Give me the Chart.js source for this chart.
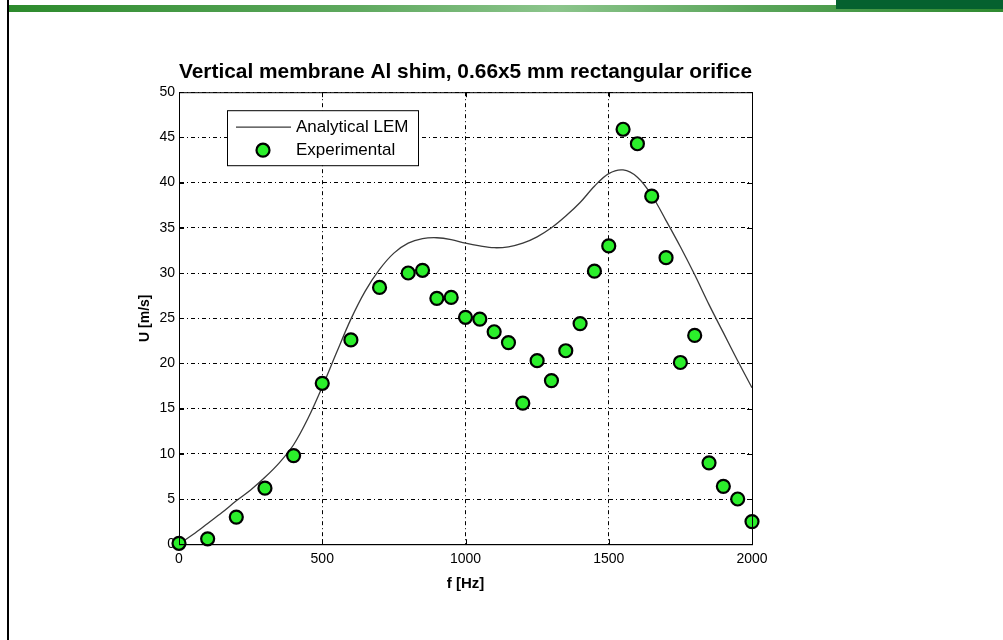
<!DOCTYPE html>
<html>
<head>
<meta charset="utf-8">
<script src="https://cdn.jsdelivr.net/npm/chart.js@4.4.1/dist/chart.umd.min.js"></script>
<style>
  html, body { margin: 0; padding: 0; background: #fff; }
  #page { position: relative; width: 1003px; height: 640px; overflow: hidden; background: #fff; }
  #band { position: absolute; left: 9px; top: 5px; width: 994px; height: 7px;
          background: linear-gradient(to right, #2c8a2c 0%, #5fa95f 35%, #8cc58c 55%, #5aa55a 75%, #2f8a30 100%); }
  #block { position: absolute; left: 836px; top: 0; width: 167px; height: 9px; background: #05612f; }
  #edge { position: absolute; left: 7px; top: 0; width: 2px; height: 640px; background: #000; }
  #chart { position: absolute; left: 0; top: 0; }
</style>
</head>
<body>
<div id="page">
  <div id="band"></div>
  <div id="block"></div>
  <div id="edge"></div>
  <canvas id="chart" width="1003" height="640"></canvas>
</div>
<script>
// --- 데이터 ---
const chartTitle = 'Vertical membrane Al shim, 0.66x5 mm rectangular orifice';
const xTitle = 'f [Hz]';
const yTitle = 'U [m/s]';

// Analytical LEM curve
const lemFreq = [0, 50, 100, 150, 200, 250, 300, 350, 400, 450, 500, 550, 600, 650, 700, 750, 800, 850, 900, 950,
                 1000, 1050, 1100, 1150, 1200, 1250, 1300, 1350, 1400, 1450, 1500, 1550, 1600, 1650, 1700, 1750,
                 1800, 1850, 1900, 1950, 2000];
const lemU = [0, 1.1, 2.3, 3.5, 4.8, 6.0, 7.4, 9.0, 11.0, 13.9, 17.4, 21.2, 24.9, 28.0, 30.4, 32.2, 33.3, 33.8, 33.9, 33.7,
              33.3, 33.0, 32.8, 32.9, 33.3, 34.0, 35.0, 36.3, 37.8, 39.6, 41.0, 41.4, 40.6, 38.6, 35.8, 32.9,
              29.8, 26.5, 23.4, 20.3, 17.3];

// Experimental
const expFreq = [0, 100, 200, 300, 400, 500, 600, 700, 800, 850, 900, 950, 1000, 1050, 1100, 1150, 1200, 1250, 1300,
                 1350, 1400, 1450, 1500, 1550, 1600, 1650, 1700, 1750, 1800, 1850, 1900, 1950, 2000];
const expU = [0.1, 0.6, 3.0, 6.2, 9.8, 17.8, 22.6, 28.4, 30.0, 30.3, 27.2, 27.3, 25.1, 24.9, 23.5, 22.3, 15.6, 20.3, 18.1,
              21.4, 24.4, 30.2, 33.0, 45.9, 44.3, 38.5, 31.7, 20.1, 23.1, 9.0, 6.4, 5.0, 2.5];

const legendLabels = ['Analytical LEM', 'Experimental'];

// --- 스타일 ---
const fontFamily = '"Liberation Sans", Arial, Helvetica, sans-serif';
const markerFill = '#2bef2b';
const lineColor = '#3a3a3a';

Chart.defaults.font.family = fontFamily;
Chart.defaults.color = '#000';

// 박스 테두리 + 안쪽 눈금 + 범례
const framePlugin = {
    id: 'frame',
    afterDatasetsDraw(chart) {
        const { ctx, chartArea: a, scales } = chart;
        ctx.save();
        ctx.strokeStyle = '#000';
        ctx.lineWidth = 1;
        ctx.setLineDash([]);
        ctx.strokeRect(a.left + 0.5, a.top + 0.5, a.right - a.left, a.bottom - a.top);

        const tick = 5;
        ctx.beginPath();
        scales.x.ticks.forEach(t => {
            const px = Math.round(scales.x.getPixelForValue(t.value)) + 0.5;
            ctx.moveTo(px, a.bottom); ctx.lineTo(px, a.bottom - tick);
            ctx.moveTo(px, a.top); ctx.lineTo(px, a.top + tick);
        });
        scales.y.ticks.forEach(t => {
            const py = Math.round(scales.y.getPixelForValue(t.value)) + 0.5;
            ctx.moveTo(a.left, py); ctx.lineTo(a.left + tick, py);
            ctx.moveTo(a.right, py); ctx.lineTo(a.right - tick, py);
        });
        ctx.stroke();

        // 범례
        const bx = a.left + 48, by = a.top + 18, bw = 191, bh = 55;
        ctx.fillStyle = '#fff';
        ctx.fillRect(bx, by, bw, bh);
        ctx.strokeRect(bx + 0.5, by + 0.5, bw, bh);

        ctx.strokeStyle = lineColor;
        ctx.lineWidth = 1.3;
        ctx.beginPath();
        ctx.moveTo(bx + 9, by + 17);
        ctx.lineTo(bx + 64, by + 17);
        ctx.stroke();

        ctx.beginPath();
        ctx.arc(bx + 36, by + 40, 6.5, 0, Math.PI * 2);
        ctx.fillStyle = markerFill;
        ctx.fill();
        ctx.lineWidth = 2.2;
        ctx.strokeStyle = '#000';
        ctx.stroke();

        ctx.fillStyle = '#000';
        ctx.font = '17px ' + fontFamily;
        ctx.textBaseline = 'middle';
        ctx.textAlign = 'left';
        ctx.fillText(legendLabels[0], bx + 69, by + 17);
        ctx.fillText(legendLabels[1], bx + 69, by + 40);
        ctx.restore();
    }
};

const ctx = document.getElementById('chart').getContext('2d');
new Chart(ctx, {
    type: 'scatter',
    data: {
        datasets: [
            {
                label: legendLabels[1],
                data: expFreq.map((f, i) => ({ x: f, y: expU[i] })),
                pointRadius: 6.5,
                pointBackgroundColor: markerFill,
                pointBorderColor: '#000',
                pointBorderWidth: 2.2,
                clip: false,
                order: 0
            },
            {
                label: legendLabels[0],
                type: 'line',
                data: lemFreq.map((f, i) => ({ x: f, y: lemU[i] })),
                borderColor: lineColor,
                borderWidth: 1.3,
                pointRadius: 0,
                fill: false,
                tension: 0.35,
                order: 1
            }
        ]
    },
    options: {
        responsive: false,
        animation: false,
        devicePixelRatio: 1,
        layout: { padding: { left: 128, right: 251, top: 60, bottom: 47 } },
        plugins: {
            legend: { display: false },
            tooltip: { enabled: false },
            title: {
                display: true,
                text: chartTitle,
                fullSize: false,
                color: '#000',
                font: { size: 21, weight: 'bold' },
                padding: { top: 0, bottom: 7 }
            }
        },
        scales: {
            x: {
                type: 'linear',
                min: 0, max: 2000,
                ticks: { stepSize: 500, padding: 7, font: { size: 14 }, color: '#000', maxRotation: 0,
                         callback: v => String(v) },
                grid: { color: '#000', lineWidth: 1, drawTicks: false },
                border: { display: true, color: '#000', dash: [4, 3, 1, 3] },
                title: { display: true, text: xTitle, font: { size: 15, weight: 'bold' }, padding: { top: 0, bottom: 0 } }
            },
            y: {
                type: 'linear',
                min: 0, max: 50,
                ticks: { stepSize: 5, padding: 4, font: { size: 14 }, color: '#000', callback: v => String(v) },
                grid: { color: '#000', lineWidth: 1, drawTicks: false },
                border: { display: true, color: '#000', dash: [4, 3, 1, 3] },
                title: { display: true, text: yTitle, font: { size: 14, weight: 'bold' }, padding: { top: 9, bottom: 0 } },
                afterFit(scale) { scale.width = 51; }
            }
        }
    },
    plugins: [framePlugin]
});
</script>
</body>
</html>
